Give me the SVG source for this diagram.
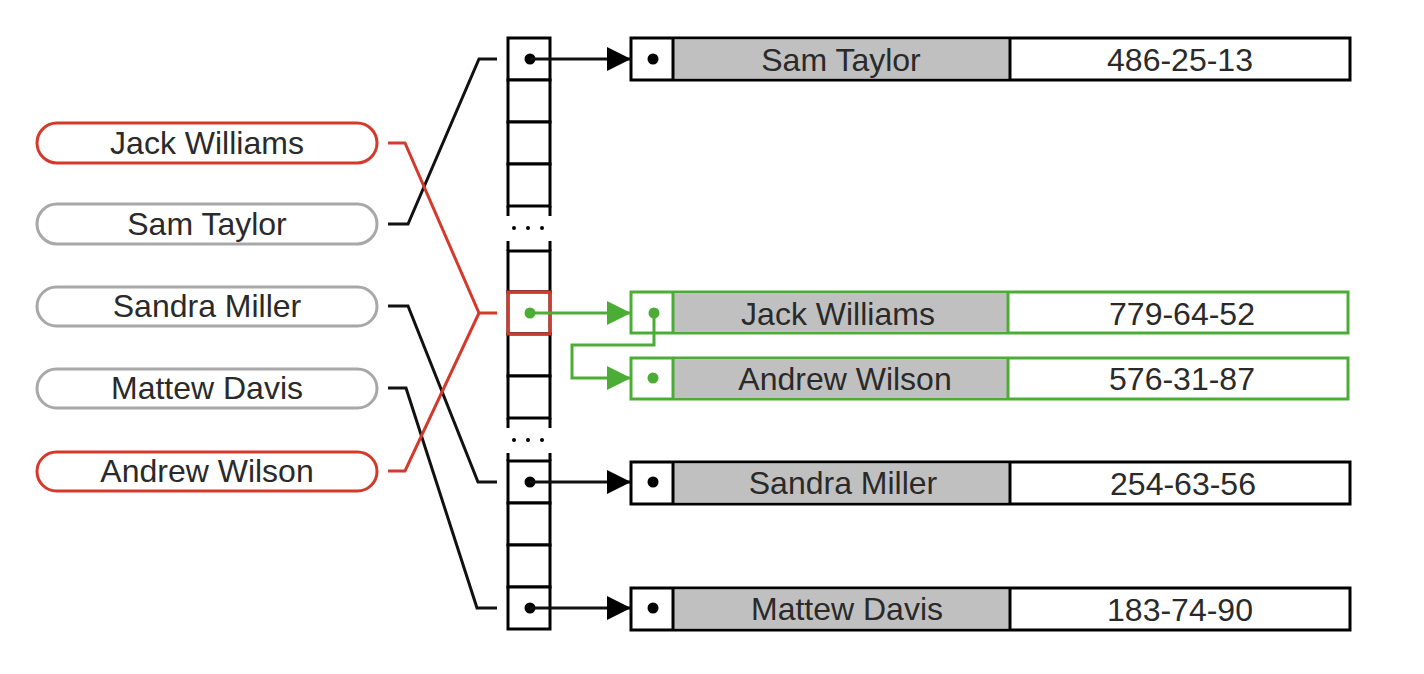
<svg xmlns="http://www.w3.org/2000/svg" width="1424" height="674" viewBox="0 0 1424 674">
<defs>
<style>
text{font-family:"Liberation Sans",Arial,sans-serif;font-size:32px;fill:#2a2a2a;text-anchor:middle}
.pill{fill:#fff;stroke-width:3}
.pg{stroke:#a8a8a8}
.pr{stroke:#d33a2c}
.cell{fill:#fff;stroke:#000;stroke-width:3}
.arr{fill:none;stroke:#000;stroke-width:3}
.rec{fill:#fff;stroke:#000;stroke-width:3}
.recg{fill:#fff;stroke:#4cad36;stroke-width:3}
.name{fill:#c0c0c0}
.con{fill:none;stroke:#111;stroke-width:3}
.conr{fill:none;stroke:#d33a2c;stroke-width:3}
.cong{fill:none;stroke:#4cad36;stroke-width:3}
</style>
<marker id="ab" markerUnits="userSpaceOnUse" markerWidth="24" markerHeight="24" refX="24" refY="12" orient="auto"><path d="M0,0 L24,12 L0,24 z" fill="#000"/></marker>
<marker id="ag" markerUnits="userSpaceOnUse" markerWidth="24" markerHeight="24" refX="24" refY="12" orient="auto"><path d="M0,0 L24,12 L0,24 z" fill="#4cad36"/></marker>
</defs>
<rect width="1424" height="674" fill="#fff"/>

<g id="keys">
<g id="key-jack"><rect class="pill pr" x="37" y="123" width="340" height="40" rx="20"/><text x="207" y="154">Jack Williams</text></g>
<g id="key-sam"><rect class="pill pg" x="37" y="204" width="340" height="40" rx="20"/><text x="207" y="235">Sam Taylor</text></g>
<g id="key-sandra"><rect class="pill pg" x="37" y="287" width="340" height="39" rx="19.5"/><text x="207" y="317">Sandra Miller</text></g>
<g id="key-mattew"><rect class="pill pg" x="37" y="369" width="340" height="39" rx="19.5"/><text x="207" y="399">Mattew Davis</text></g>
<g id="key-andrew"><rect class="pill pr" x="37" y="452" width="340" height="39" rx="19.5"/><text x="207" y="482">Andrew Wilson</text></g>
</g>

<g id="array">
<g id="array-top">
<rect class="cell" x="508" y="38" width="42" height="42"/>
<rect class="cell" x="508" y="80" width="42" height="42"/>
<rect class="cell" x="508" y="122" width="42" height="42"/>
<rect class="cell" x="508" y="164" width="42" height="42"/>
<path class="arr" d="M508,206 V216 M550,206 V216"/>
</g>
<g id="dots1" fill="#000"><circle cx="514" cy="228" r="2"/><circle cx="528" cy="228" r="2"/><circle cx="542" cy="228" r="2"/></g>
<g id="array-mid">
<path class="arr" d="M508,241 V251 M550,241 V251 M508,418 V428 M550,418 V428"/>
<rect class="cell" x="508" y="251" width="42" height="41"/>
<rect class="cell" x="508" y="292" width="42" height="42"/>
<rect class="cell" x="508" y="334" width="42" height="42"/>
<rect class="cell" x="508" y="376" width="42" height="42"/>
<rect x="508" y="292" width="42" height="42" fill="none" stroke="#d33a2c" stroke-width="3"/>
</g>
<g id="dots2" fill="#000"><circle cx="514" cy="440" r="2"/><circle cx="528" cy="440" r="2"/><circle cx="542" cy="440" r="2"/></g>
<g id="array-bottom">
<path class="arr" d="M508,453 V461 M550,453 V461"/>
<rect class="cell" x="508" y="461" width="42" height="42"/>
<rect class="cell" x="508" y="503" width="42" height="42"/>
<rect class="cell" x="508" y="545" width="42" height="42"/>
<rect class="cell" x="508" y="587" width="42" height="42"/>
</g>
</g>

<g id="rec-sam">
<rect class="rec" x="631" y="38" width="719" height="42"/>
<rect class="name" x="673" y="39.5" width="337" height="39"/>
<path class="rec" d="M673,38 V80 M1010,38 V80"/>
<circle cx="653" cy="59" r="5.5" fill="#000"/>
<text x="841" y="71">Sam Taylor</text><text x="1180" y="71">486-25-13</text>
</g>
<g id="rec-jack">
<rect class="recg" x="631" y="292" width="717" height="41"/>
<rect class="name" x="673" y="293.5" width="335" height="38"/>
<path class="recg" d="M673,292 V333 M1008,292 V333"/>
<text x="838" y="325">Jack Williams</text><text x="1182" y="325">779-64-52</text>
</g>
<g id="rec-andrew">
<rect class="recg" x="631" y="358" width="717" height="41"/>
<rect class="name" x="673" y="359.5" width="335" height="38"/>
<path class="recg" d="M673,358 V399 M1008,358 V399"/>
<circle cx="653" cy="378" r="5.5" fill="#4cad36"/>
<text x="845" y="390">Andrew Wilson</text><text x="1182" y="390">576-31-87</text>
</g>
<g id="rec-sandra">
<rect class="rec" x="631" y="462" width="719" height="42"/>
<rect class="name" x="673" y="463.5" width="337" height="39"/>
<path class="rec" d="M673,462 V504 M1010,462 V504"/>
<circle cx="653" cy="482" r="5.5" fill="#000"/>
<text x="843" y="494">Sandra Miller</text><text x="1183" y="495">254-63-56</text>
</g>
<g id="rec-mattew">
<rect class="rec" x="631" y="588" width="719" height="42"/>
<rect class="name" x="673" y="589.5" width="337" height="39"/>
<path class="rec" d="M673,588 V630 M1010,588 V630"/>
<circle cx="653" cy="608" r="5.5" fill="#000"/>
<text x="847" y="620">Mattew Davis</text><text x="1180" y="621">183-74-90</text>
</g>

<g id="connectors">
<path class="con" d="M388,224 H408 L479,59 H497"/>
<path class="con" d="M388,306 H408 L478,482 H497"/>
<path class="con" d="M388,388 H406 L477,608 H497"/>
<path class="conr" d="M388,143 H405 L479,313 H497"/>
<path class="conr" d="M388,471 H405 L479,313"/>
<circle cx="530" cy="59" r="5.5" fill="#000"/>
<path class="con" d="M530,59 H631" marker-end="url(#ab)"/>
<circle cx="530" cy="482" r="5.5" fill="#000"/>
<path class="con" d="M530,482 H631" marker-end="url(#ab)"/>
<circle cx="530" cy="608" r="5.5" fill="#000"/>
<path class="con" d="M530,608 H631" marker-end="url(#ab)"/>
<circle cx="530" cy="313" r="5.5" fill="#4cad36"/>
<path class="cong" d="M530,313 H631" marker-end="url(#ag)"/>
<circle cx="654" cy="313" r="5.5" fill="#4cad36"/>
<path class="cong" d="M654,313 V345 H572 V378 H631" marker-end="url(#ag)"/>
</g>
</svg>
